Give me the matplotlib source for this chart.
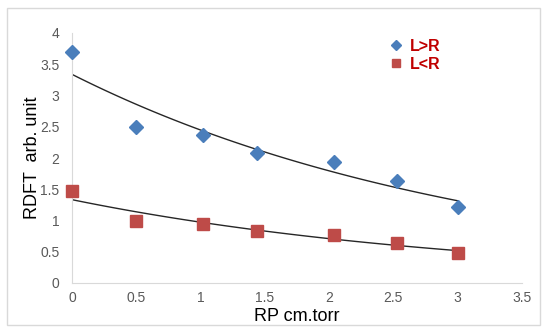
import matplotlib
matplotlib.use('Agg')
import matplotlib.pyplot as plt
import numpy as np
from matplotlib.patches import Rectangle

plt.rcParams['font.family'] = ['Liberation Sans', 'DejaVu Sans']

x_lr = [0, 0.5, 1.02, 1.44, 2.04, 2.53, 3.0]
y_lr = [3.70, 2.50, 2.37, 2.08, 1.94, 1.63, 1.22]
x_rl = [0, 0.5, 1.02, 1.44, 2.04, 2.53, 3.0]
y_rl = [1.47, 1.00, 0.94, 0.83, 0.77, 0.64, 0.48]

xticks = [0, 0.5, 1, 1.5, 2, 2.5, 3, 3.5]
yticks = [0, 0.5, 1, 1.5, 2, 2.5, 3, 3.5, 4]

fig = plt.figure(figsize=[5.5, 3.34], dpi=100)
fig.patches.append(Rectangle((7/550, 1-325/334), 533/550, 317/334, transform=fig.transFigure,
                             fill=False, edgecolor='#d9d9d9', linewidth=1))
ax = fig.add_axes([72/550, 1-283/334, 450/550, 250/334])

# exponential trendlines (fit on log values, like Excel)
def expfit(x, y):
    b, a = np.polyfit(x, np.log(y), 1)
    xs = np.linspace(min(x), max(x), 100)
    return xs, np.exp(a) * np.exp(b * xs)

xs, ys = expfit(x_lr, y_lr)
ax.plot(xs, ys, color='#262626', linewidth=1)
xs, ys = expfit(x_rl, y_rl)
ax.plot(xs, ys, color='#262626', linewidth=1)

ax.plot(x_lr, y_lr, 'D', color='#4a7ebb', markersize=7, label='L>R', zorder=3, clip_on=False)
ax.plot(x_rl, y_rl, 's', color='#be4b48', markersize=8, label='L<R', zorder=3, clip_on=False)

ax.set_xlim(0, 3.5)
ax.set_ylim(0, 4)
ax.set_xticks(xticks)
ax.set_xticklabels([str(t) for t in xticks])
ax.set_yticks(yticks)
ax.set_yticklabels([str(t) for t in yticks])
ax.tick_params(length=0, labelsize=10, colors='#595959')
ax.tick_params(axis='x', pad=6)
ax.tick_params(axis='y', pad=9)
for s in ['top', 'right']:
    ax.spines[s].set_visible(False)
for s in ['left', 'bottom']:
    ax.spines[s].set_color('#d9d9d9')
ax.set_xlabel('RP cm.torr', fontsize=13)
ax.set_ylabel('RDFT  arb. unit', fontsize=13)
ax.xaxis.set_label_coords(0.5, -0.1)
ax.yaxis.set_label_coords(-0.068, 0.5)

leg = ax.legend(loc='upper left', bbox_to_anchor=(0.67, 1.035), frameon=False,
                fontsize=11.5, handletextpad=0.4, labelspacing=0.2, handlelength=1.0,
                markerscale=0.75)
for t in leg.get_texts():
    t.set_color('#c00000')
    t.set_fontweight('bold')

fig.savefig('out.png', dpi=100)
